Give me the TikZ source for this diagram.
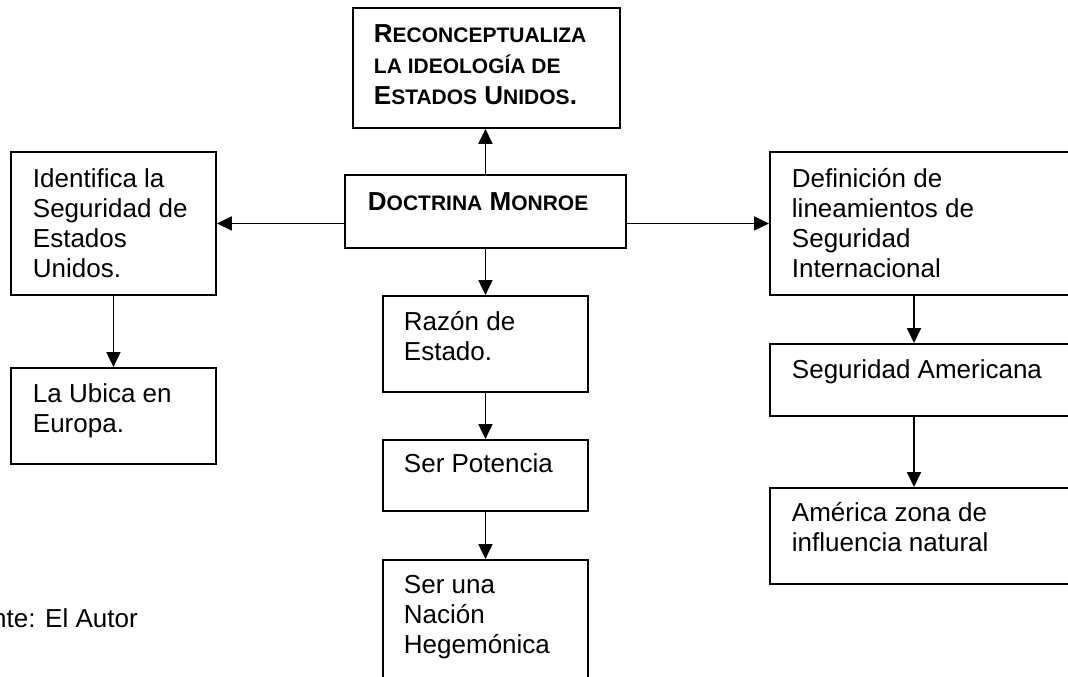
\documentclass[tikz,border=0pt]{standalone}
\usepackage{fontspec}
\setmainfont{Liberation Sans}
\usetikzlibrary{arrows.meta}
\newcommand{\boxcontent}[5]{% width, height, pad, gap to first baseline, text
  \parbox[c][#2][t]{#1}{\leftskip=#3\rightskip=0pt plus 1fil\parindent=0pt
    \vspace*{\dimexpr#4-25pt\relax}\rule{0pt}{25pt}#5\par}}
\newcommand{\BigC}[1]{{\fontsize{26}{31}\selectfont#1}}
\newcommand{\SmC}[1]{{\fontsize{21}{31}\selectfont#1}}
\tikzset{
  box/.style={draw, line width=1.9pt, inner sep=0pt, anchor=north west,
    font=\fontsize{26}{29.9}\selectfont},
  arr/.style={line width=1.9pt, -{Triangle[length=15pt,width=14pt]}},
  plain/.style={inner sep=0pt, font=\fontsize{26}{29.9}\selectfont}
}
\begin{document}
\begin{tikzpicture}[x=1pt,y=-1pt]
\useasboundingbox (0,0) rectangle (1068,677);
\clip (0,0) rectangle (1068,677);
\fill[white] (0,0) rectangle (1068,677);

\node[box] (top) at (352,7) {\boxcontent{267pt}{120pt}{21pt}{35pt}{\bfseries\fontsize{26}{31}\selectfont
  \BigC{R}\SmC{ECONCEPTUALIZA}\\\SmC{LA IDEOLOGÍA DE}\\\BigC{E}\SmC{STADOS} \BigC{U}\SmC{NIDOS}.}};
\node[box] (doc) at (344,174) {\boxcontent{281pt}{73pt}{23pt}{36pt}{\bfseries\fontsize{26}{31}\selectfont
  \BigC{D}\SmC{OCTRINA} \BigC{M}\SmC{ONROE}}};

\node[box] (ide) at (10,151) {\boxcontent{205pt}{143pt}{22pt}{36pt}{Identifica la\\Seguridad de\\Estados\\Unidos.}};
\node[box] (ubi) at (10,367) {\boxcontent{205pt}{96pt}{22pt}{35pt}{La Ubica en\\Europa.}};

\node[box] (raz) at (382,295) {\boxcontent{205pt}{96pt}{21pt}{35pt}{Razón de\\Estado.}};
\node[box] (pot) at (382,439) {\boxcontent{205pt}{71pt}{21pt}{33pt}{Ser Potencia}};
\node[box] (heg) at (382,559) {\boxcontent{205pt}{150pt}{21pt}{34pt}{Ser una\\Nación\\Hegemónica}};

\node[box] (def) at (769,151) {\boxcontent{320pt}{143pt}{22pt}{36pt}{Definición de\\lineamientos de\\Seguridad\\Internacional}};
\node[box] (seg) at (769,343) {\boxcontent{320pt}{72pt}{22pt}{35pt}{Seguridad Americana}};
\node[box] (ame) at (769,487) {\boxcontent{320pt}{96pt}{22pt}{34pt}{América zona de\\influencia natural}};

\node[plain, anchor=base west] (fuente) at (-8,627) {nte: El Autor};

\draw[arr] (doc.north) -- (doc.north |- top.south);
\draw[arr] (doc.west |- ide.east) -- (ide.east);
\draw[arr] (doc.east |- def.west) -- (def.west);
\draw[arr] (ide.south) -- (ide.south |- ubi.north);
\draw[arr] (doc.south) -- (doc.south |- raz.north);
\draw[arr] (raz.south) -- (pot.north);
\draw[arr] (pot.south) -- (heg.north);
\draw[arr] ([xshift=145pt]def.south west) -- ([xshift=145pt]seg.north west);
\draw[arr] ([xshift=145pt]seg.south west) -- ([xshift=145pt]ame.north west);
\end{tikzpicture}
\end{document}
